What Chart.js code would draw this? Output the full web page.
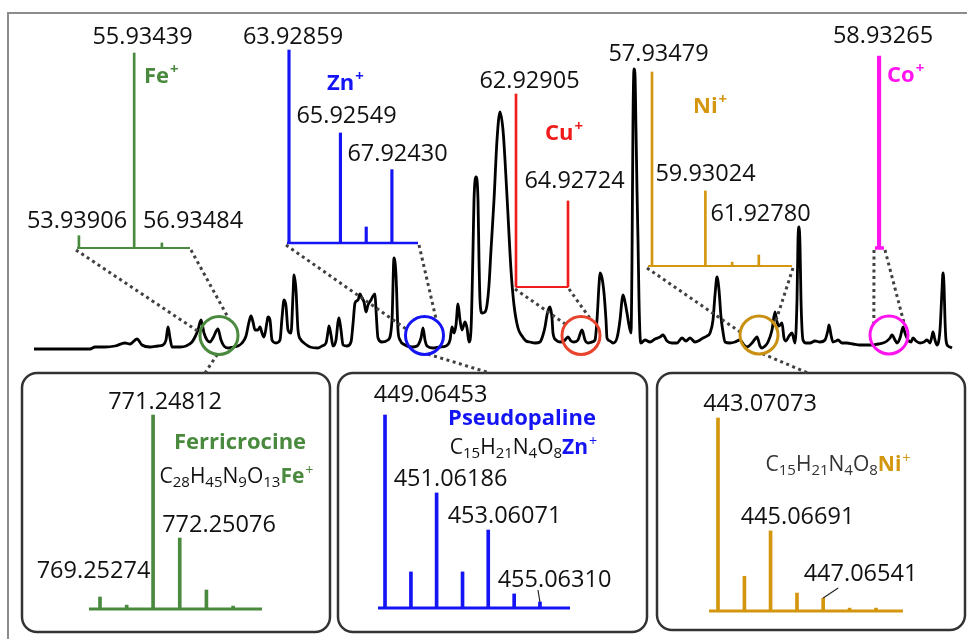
<!DOCTYPE html>
<html><head><meta charset="utf-8">
<script src="https://cdn.jsdelivr.net/npm/chart.js@4.4.1/dist/chart.umd.min.js"></script>
<style>
html,body{margin:0;padding:0;background:#fff;}
#stage{position:relative;width:967px;height:639px;overflow:hidden;background:#fff;font-family:'Open Sans',sans-serif;}
#stage canvas{position:absolute;left:0;top:0;}
.lbl{position:absolute;white-space:nowrap;line-height:1;color:#111;}
.sp{font-size:0.68em;position:relative;top:-0.62em;margin-left:1px;}
.sb{font-size:15px;position:relative;top:4px;}
</style></head>
<body><div id="stage"></div>
<script>
// ---- total ion chromatogram (retention time, min / intensity x10^3) ----
const rtMin = [
0,1.12,1.22,1.42,1.62,1.82,1.92,2.06,2.16,2.32,
2.48,2.58,2.64,2.68,2.72,2.76,2.92,3.04,3.16,3.22,
3.28,3.34,3.40,3.46,3.52,3.58,3.68,3.74,3.80,3.88,
3.98,4.08,4.16,4.24,4.30,4.34,4.38,4.42,4.48,4.52,
4.56,4.60,4.66,4.68,4.72,4.76,4.84,4.92,4.96,5.00,
5.04,5.08,5.14,5.18,5.20,5.24,5.28,5.34,5.40,5.52,
5.68,5.76,5.84,5.88,5.90,5.94,5.98,6.04,6.08,6.10,
6.14,6.18,6.26,6.34,6.38,6.42,6.48,6.52,6.56,6.60,
6.64,6.68,6.74,6.78,6.82,6.84,6.88,6.96,7.08,7.16,
7.20,7.24,7.28,7.32,7.42,7.56,7.66,7.74,7.78,7.82,
7.86,7.98,8.12,8.24,8.32,8.36,8.40,8.44,8.48,8.52,
8.56,8.62,8.66,8.70,8.74,8.78,8.80,8.84,8.88,8.90,
8.92,8.96,9.02,9.06,9.10,9.14,9.20,9.26,9.32,9.38,
9.42,9.48,9.54,9.60,9.68,9.76,9.84,9.92,10.02,10.12,
10.18,10.22,10.26,10.30,10.32,10.36,10.38,10.44,10.52,10.60,
10.68,10.74,10.80,10.88,10.96,11.02,11.08,11.16,11.22,11.26,
11.30,11.32,11.36,11.40,11.44,11.46,11.52,11.58,11.66,11.72,
11.76,11.78,11.82,11.86,11.90,11.94,11.96,11.98,12.00,12.02,
12.04,12.06,12.08,12.10,12.12,12.14,12.22,12.32,12.42,12.52,
12.58,12.66,12.76,12.86,12.96,13.04,13.12,13.22,13.32,13.38,
13.46,13.52,13.58,13.62,13.66,13.70,13.74,13.78,13.82,13.92,
14.02,14.12,14.20,14.26,14.36,14.42,14.46,14.52,14.56,14.62,
14.68,14.76,14.82,14.86,14.90,14.96,15.00,15.04,15.10,15.16,
15.22,15.26,15.28,15.30,15.32,15.34,15.38,15.44,15.52,15.62,
15.72,15.82,15.88,15.90,15.94,15.98,16.04,16.08,16.16,16.26,
16.38,16.52,16.64,16.76,16.88,16.98,17.06,17.12,17.16,17.22,
17.26,17.32,17.36,17.38,17.42,17.48,17.54,17.58,17.64,17.72,
17.80,17.86,17.92,17.96,17.98,18.02,18.06,18.12,18.16,18.18,
18.20,18.22,18.24,18.28,18.32,18.36];
const ticSignal = [
0,0,0.10,0.10,0.15,0.30,0.25,0.50,0.20,0.10,
0.15,0.20,0.45,1.10,0.55,0.10,0.10,0.15,0.35,0.60,
0.95,1.45,0.80,0.45,0.35,0.55,1.00,0.45,0.15,0.05,
0.10,0.15,0.30,0.65,1.35,1.65,1.35,0.95,0.95,1.10,
0.80,0.60,1.35,1.60,1.45,0.45,0.30,0.45,1.55,2.45,
2.15,0.95,0.80,2.70,3.70,2.95,0.95,0.45,0.30,0.10,
0.05,0.15,0.30,0.85,1.15,0.70,0.15,0.45,1.35,1.55,
0.95,0.20,0.15,0.35,1.25,2.30,2.45,2.75,2.55,2.35,
1.85,2.20,2.45,2.65,2.75,1.95,0.55,0.35,0.45,1.45,
4.55,3.70,0.95,0.45,0.20,0.10,0.15,0.55,1.05,0.45,
0.15,0.05,0.10,0.15,0.45,1.10,0.80,1.20,2.25,1.45,
0.95,1.35,1.05,0.35,0.95,4.95,7.45,8.60,7.45,4.45,
2.45,1.80,1.85,2.20,3.20,4.95,7.45,10.45,11.85,10.95,
9.45,6.70,3.95,2.20,1.05,0.65,0.40,0.35,0.30,0.35,
0.70,1.10,1.70,2.05,2.10,1.55,0.80,0.45,0.35,0.40,
0.60,0.40,0.35,0.45,0.95,0.45,0.30,0.35,0.45,1.45,
3.20,3.80,3.55,2.80,1.45,0.55,0.40,0.30,0.55,1.45,
2.45,2.70,2.35,1.80,1.20,0.80,4.45,11.45,14.00,13.70,
10.95,7.95,5.45,2.45,0.70,0.30,0.45,0.35,0.50,0.60,
0.70,0.40,0.30,0.30,0.55,0.40,0.55,0.35,0.45,0.55,
0.65,0.80,1.45,2.70,3.60,2.95,1.60,0.85,0.35,0.30,
0.35,0.45,0.20,0.10,0.30,0.50,0.60,0.15,0.05,0.15,
0.35,0.95,1.85,1.35,1.15,1.30,0.55,0.40,0.65,0.80,
0.30,2.45,5.45,6.10,5.20,2.45,0.45,0.30,0.30,0.40,
0.35,0.45,0.95,1.20,0.70,0.35,0.40,0.45,0.30,0.30,
0.25,0.20,0.20,0.20,0.25,0.30,0.40,0.55,0.70,0.45,
0.30,0.55,0.95,1.10,0.80,0.45,0.35,0.55,0.40,0.30,
0.35,0.45,0.30,0.65,0.85,0.45,0.20,0.95,2.95,3.80,
3.20,1.45,0.45,0.15,0.10,0.05];

// ---- zoomed regions on the chromatogram (rt, intensity) ----
const zoomRt  = [3.70, 7.81, 10.94, 14.50, 17.10];
const zoomTic = [0.68, 0.68, 0.68, 0.70, 0.70];

// ---- metal isotope patterns (m/z, relative abundance %) ----
const feMz = [53.93906, 55.93439, 56.93484];
const feRel = [6.3, 100, 2.6];
const znMz = [63.92859, 65.92549, 66.92713, 67.92430];
const znRel = [100, 57, 8.3, 38];
const cuMz = [62.92905, 64.92724];
const cuRel = [100, 44.6];
const niMz = [57.93479, 59.93024, 60.93106, 61.92780];
const niRel = [100, 38.7, 2.0, 5.7];
const coMz = [58.93265];
const coRel = [100];

// ---- metallophore isotope patterns ----
const fcrMz = [769.25274, 770.25555, 771.24812, 772.25076, 773.25350, 774.25580];
const fcrRel = [6.2, 2.0, 100, 36.6, 9.8, 1.5];
const pznMz = [449.06453, 450.06790, 451.06186, 452.06520, 453.06071, 454.06410, 455.06310];
const pznRel = [100, 18.7, 59.6, 18.7, 40.4, 7.3, 3.1];
const pniMz = [443.07073, 444.07410, 445.06691, 446.07030, 447.06541, 448.06880, 449.07230];
const pniRel = [100, 18.0, 41.5, 9.3, 6.7, 1.5, 1.5];

const GREEN='#4a8a3e', BLUE='#1414f5', RED='#f01c1c', GOLD='#d4960e', MAG='#ff14f0';

const W=967, H=639;
const stage=document.getElementById('stage');
function mkCanvas(){const c=document.createElement('canvas');c.width=W;c.height=H;c.style.width=W+'px';c.style.height=H+'px';stage.appendChild(c);return c;}
function pad(l,t,r,b){return {left:l,top:t,right:W-r,bottom:H-b};}

const main = new Chart(mkCanvas(), {
  type:'line',
  data:{datasets:[{data:rtMin.map((t,i)=>({x:t,y:ticSignal[i]})),borderColor:'#000',borderWidth:2.8,
    pointRadius:0,cubicInterpolationMode:'monotone',clip:false}]},
  options:{responsive:false,animation:false,events:[],layout:{padding:pad(34,69,952,349)},
    plugins:{legend:{display:false},tooltip:{enabled:false}},
    scales:{x:{type:'linear',display:false,min:0,max:18.36},y:{display:false,min:0,max:14}}}
});

function stickChart(mz, rel, color, area, range, thick){
  return new Chart(mkCanvas(), {
    type:'bar',
    data:{datasets:[{data:mz.map((m,i)=>({x:m,y:rel[i]})),backgroundColor:color,borderWidth:0,barThickness:thick,clip:false}]},
    options:{responsive:false,animation:false,events:[],layout:{padding:pad(...area)},
      plugins:{legend:{display:false},tooltip:{enabled:false}},
      scales:{x:{type:'linear',display:false,min:range[0],max:range[1],offset:false},y:{display:false,min:0,max:100}}},
    plugins:[{id:'base',beforeDatasetsDraw(ch){const a=ch.chartArea,c=ch.ctx;c.save();c.strokeStyle=color;c.lineWidth=thick;
      c.beginPath();c.moveTo(a.left,a.bottom);c.lineTo(a.right,a.bottom);c.stroke();c.restore();}}]
  });
}

const fe = stickChart(feMz, feRel, GREEN, [77,53,190,248], [53.87,57.95], 2);
const zn = stickChart(znMz, znRel, BLUE, [287,50,418,243], [63.851,68.938], 2.5);
const cu = stickChart(cuMz, cuRel, RED, [516,94,568,287], [62.92905,64.92724], 2);
const ni = stickChart(niMz, niRel, GOLD, [648,72,792,266], [57.785,63.168], 2);
const co = stickChart(coMz, coRel, MAG, [875,56,884,248], [58.77,59.13], 3.5);
const fcr = stickChart(fcrMz, fcrRel, GREEN, [89,415,262,609], [768.839,775.343], 3);
const pzn = stickChart(pznMz, pznRel, BLUE, [378,415,570,608], [448.793,456.226], 3);
const pni = stickChart(pniMz, pniRel, GOLD, [709,418,903,611], [442.729,450.097], 3);

// ---- decorations ----
const dc = mkCanvas().getContext('2d');
dc.strokeStyle='#8c8c8c'; dc.lineWidth=2;
dc.beginPath(); dc.moveTo(8,H); dc.lineTo(8,13); dc.lineTo(W,13); dc.stroke();
function rbox(x1,y1,x2,y2,r){dc.beginPath();dc.roundRect(x1,y1,x2-x1,y2-y1,r);dc.stroke();}
dc.strokeStyle='#333'; dc.lineWidth=2.5;
rbox(22,373,330,632,15); rbox(338,373,647,632,15); rbox(657,373,965,630,15);

const R=19;
const circCol=[GREEN,BLUE,'#e8432c','#c99012',MAG];
const insets=[fe,zn,cu,ni,co];
const angL=[-172,-161,-144,-171,-143], angR=[-58,-51,-61,-34,-37];
const boxLink={0:[95,205],1:[80,490],3:[80,808]};
function dotted(x1,y1,x2,y2){dc.save();dc.strokeStyle='#404040';dc.lineWidth=3;dc.setLineDash([3,3.5]);
  dc.beginPath();dc.moveTo(x1,y1);dc.lineTo(x2,y2);dc.stroke();dc.restore();}
const rad=a=>a*Math.PI/180;
insets.forEach((ch,i)=>{
  const a=ch.chartArea;
  const cx=main.scales.x.getPixelForValue(zoomRt[i]), cy=main.scales.y.getPixelForValue(zoomTic[i]);
  dotted(a.left-1,a.bottom+2,cx+R*Math.cos(rad(angL[i])),cy+R*Math.sin(rad(angL[i])));
  dotted(a.right+1,a.bottom+2,cx+R*Math.cos(rad(angR[i])),cy+R*Math.sin(rad(angR[i])));
  if(boxLink[i]){const [ang,bx]=boxLink[i];dotted(cx+R*Math.cos(rad(ang)),cy+R*Math.sin(rad(ang)),bx,373);}
});
insets.forEach((ch,i)=>{
  const cx=main.scales.x.getPixelForValue(zoomRt[i]), cy=main.scales.y.getPixelForValue(zoomTic[i]);
  dc.strokeStyle=circCol[i]; dc.lineWidth=3; dc.beginPath(); dc.arc(cx,cy,R,0,Math.PI*2); dc.stroke();
});
function leader(ch,k,dx,dy){const x=ch.scales.x.getPixelForValue(ch.data.datasets[0].data[k].x),
  y=ch.scales.y.getPixelForValue(ch.data.datasets[0].data[k].y);
  dc.strokeStyle='#222';dc.lineWidth=1.2;dc.beginPath();dc.moveTo(x,y);dc.lineTo(x+dx,y+dy);dc.stroke();}
leader(pni,4,15,-10);
leader(pzn,6,-2,-12);

// ---- text ----
function label(html,x,base,size,o={}){
  const d=document.createElement('div');d.className='lbl';d.innerHTML=html;
  d.style.fontSize=size+'px';d.style.left=x+'px';d.style.top=(base-0.888*size)+'px';
  if(o.bold)d.style.fontWeight='700'; if(o.color)d.style.color=o.color;
  if(o.center)d.style.transform='translateX(-50%)';
  stage.appendChild(d);
}
const f=v=>v.toFixed(5);
const NUM=23.5;
[[feMz[1],142.5,45],[feMz[0],77,229],[feMz[2],193,229],
 [znMz[0],293,45],[znMz[1],346.5,124],[znMz[3],397.5,162],
 [cuMz[0],529.5,89],[cuMz[1],574.5,189],
 [niMz[0],658.5,62],[niMz[1],705.5,182],[niMz[3],760.5,222],
 [coMz[0],883,44],
 [fcrMz[2],165,410],[fcrMz[3],219,533],[fcrMz[0],93.5,579],
 [pznMz[0],430.5,403],[pznMz[2],450.5,487],[pznMz[4],504.5,524],[pznMz[6],554.5,588],
 [pniMz[0],760,412],[pniMz[2],797.5,525],[pniMz[4],860.5,582]
].forEach(([v,x,b])=>label(f(v),x,b,NUM,{center:true}));

const ion=(s)=>s+'<span class="sp">+</span>';
label(ion('Fe'),144,83,22,{bold:true,color:GREEN});
label(ion('Zn'),327,90,22,{bold:true,color:BLUE});
label(ion('Cu'),545,140,22,{bold:true,color:RED});
label(ion('Ni'),693,113,22,{bold:true,color:GOLD});
label(ion('Co'),887,82,22,{bold:true,color:MAG});

label('Ferricrocine',240,449,22,{bold:true,color:GREEN,center:true});
label('Pseudopaline',522,425,22,{bold:true,color:BLUE,center:true});
const sb=n=>'<span class="sb">'+n+'</span>';
const metal=(m,c)=>'<b style="color:'+c+'">'+m+'</b><span class="sp" style="color:'+c+'">+</span>';
label('C'+sb(28)+'H'+sb(45)+'N'+sb(9)+'O'+sb(13)+metal('Fe',GREEN),236.5,484,21,{center:true});
label('C'+sb(15)+'H'+sb(21)+'N'+sb(4)+'O'+sb(8)+metal('Zn',BLUE),523.5,455,21,{center:true});
label('C'+sb(15)+'H'+sb(21)+'N'+sb(4)+'O'+sb(8)+metal('Ni',GOLD),838,472,21,{center:true,color:'#333'});
</script></body></html>
